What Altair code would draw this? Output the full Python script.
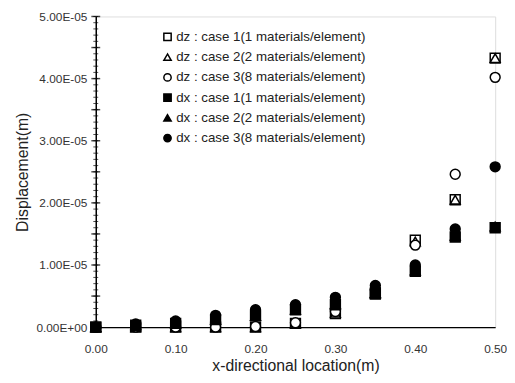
import altair as alt
import pandas as pd

x_loc = [0.00, 0.05, 0.10, 0.15, 0.20, 0.25, 0.30, 0.35, 0.40, 0.45, 0.50]

dz_case1 = [0, 0, 0, 0, 0, 0.6e-6, 2.2e-6, 5.5e-6, 1.40e-5, 2.05e-5, 4.33e-5]
dz_case2 = [0, 0, 0, 0, 0, 0.6e-6, 2.3e-6, 5.5e-6, 1.38e-5, 2.05e-5, 4.33e-5]
dz_case3 = [0, 0, 0, 0, 0.1e-6, 0.7e-6, 2.5e-6, 6.0e-6, 1.32e-5, 2.46e-5, 4.02e-5]
dx_case1 = [0, 0.3e-6, 0.6e-6, 1.2e-6, 1.8e-6, 2.8e-6, 3.6e-6, 5.3e-6, 9.0e-6, 1.45e-5, 1.60e-5]
dx_case2 = [0, 0.3e-6, 0.6e-6, 1.2e-6, 1.8e-6, 2.8e-6, 3.7e-6, 5.4e-6, 9.1e-6, 1.47e-5, 1.62e-5]
dx_case3 = [0, 0.5e-6, 1.0e-6, 1.9e-6, 2.8e-6, 3.6e-6, 4.8e-6, 6.7e-6, 1.0e-5, 1.58e-5, 2.58e-5]

series_names = [
    "dz : case 1(1 materials/element)",
    "dz : case 2(2 materials/element)",
    "dz : case 3(8 materials/element)",
    "dx : case 1(1 materials/element)",
    "dx : case 2(2 materials/element)",
    "dx : case 3(8 materials/element)",
]
series_values = [dz_case1, dz_case2, dz_case3, dx_case1, dx_case2, dx_case3]
shapes = ["square", "triangle-up", "circle", "square", "triangle-up", "circle"]
fills = ["white", "white", "white", "black", "black", "black"]
strokes = ["black"] * 6

major_ticks = [i * 5e-6 for i in range(11)]
minor_ticks = [i * 1e-6 for i in range(51)]
x_ticks = [0.0, 0.1, 0.2, 0.3, 0.4, 0.5]

rows = []
for name, vals in zip(series_names, series_values):
    for xv, yv in zip(x_loc, vals):
        rows.append({"x": xv, "y": yv, "series": name})
df = pd.DataFrame(rows)

FONT = "Liberation Sans"

xscale = alt.Scale(domain=[0, 0.5], nice=False, zero=False, padding=0)
yscale = alt.Scale(domain=[0, 5e-5], nice=False, padding=0)

label_expr = "replace(replace(format(datum.value, '.2e'), 'e-', 'E-0'), 'e+', 'E+0')"


def make_legend():
    return alt.Legend(title=None, orient="none", legendX=66, legendY=14,
                      labelFont=FONT, labelFontSize=13.5, labelColor="#222",
                      symbolSize=55, symbolStrokeWidth=1.5, rowPadding=5.5,
                      labelOffset=2, padding=0, labelLimit=400)


points = alt.Chart(df).mark_point(
    filled=False, strokeWidth=1.5, size=100, opacity=1, clip=False
).encode(
    x=alt.X("x:Q", scale=xscale, title="x-directional location(m)",
            axis=alt.Axis(values=x_ticks, format=".2f", grid=False, ticks=False,
                          labelPadding=17, titlePadding=3, domainColor="black",
                          domainWidth=1.5, labelFontSize=12, titleFontSize=16,
                          titleFontWeight="normal", labelColor="#333", titleColor="#222",
                          labelFont=FONT, titleFont=FONT, labelOverlap=False,
                          labelFlush=False)),
    y=alt.Y("y:Q", scale=yscale, title="Displacement(m)",
            axis=alt.Axis(values=major_ticks, labelExpr=label_expr, grid=False, ticks=False,
                          labelPadding=9, titlePadding=5, domainColor="black",
                          domainWidth=1.5, labelFontSize=12, titleFontSize=16,
                          titleFontWeight="normal", labelColor="#333", titleColor="#222",
                          labelFont=FONT, titleFont=FONT, labelOverlap=False,
                          labelFlush=False)),
    shape=alt.Shape("series:N", sort=series_names,
                    scale=alt.Scale(domain=series_names, range=shapes),
                    legend=make_legend()),
    fill=alt.Fill("series:N", sort=series_names,
                  scale=alt.Scale(domain=series_names, range=fills),
                  legend=make_legend()),
    stroke=alt.Stroke("series:N", sort=series_names,
                      scale=alt.Scale(domain=series_names, range=strokes),
                      legend=make_legend()),
    order=alt.Order("ord:Q"),
).transform_calculate(ord="indexof(['" + "','".join(series_names) + "'], datum.series)")

major_df = pd.DataFrame({"v": major_ticks})
minor_df = pd.DataFrame({"v": minor_ticks})

major_tick_layer = alt.Chart(major_df).mark_tick(
    orient="horizontal", color="black", size=9, thickness=1.5
).encode(x=alt.datum(0, scale=xscale), y=alt.Y("v:Q", scale=yscale))

minor_tick_layer = alt.Chart(minor_df).mark_tick(
    orient="horizontal", color="black", size=5, thickness=1
).encode(x=alt.datum(0, scale=xscale), y=alt.Y("v:Q", scale=yscale))

chart = alt.layer(minor_tick_layer, major_tick_layer, points).properties(
    width=405, height=315,
    autosize=alt.AutoSizeParams(type="none"),
    padding={"left": 89, "top": 6, "right": 12, "bottom": 50},
).configure_view(stroke="black", strokeWidth=1.5).configure(background="white")

chart.save("out.html", embed_options={"renderer": "svg", "actions": False})
